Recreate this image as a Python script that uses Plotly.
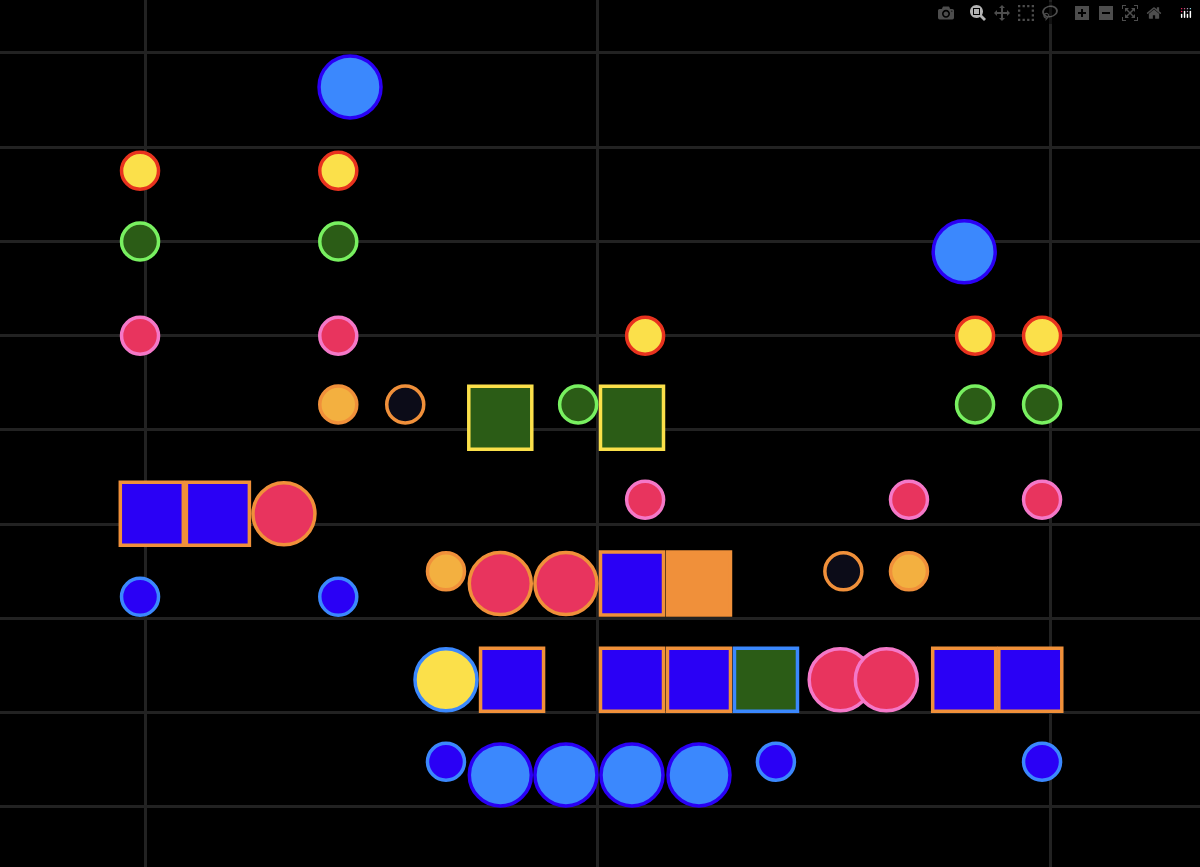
import plotly.graph_objects as go

BLUE_L = "#3b88fd"; BLUE_D = "#2a00f5"; YEL = "#fbe04a"; RED = "#e8321e"
GRN = "#2b5c16"; GRN_L = "#78f060"; PINK = "#e8345e"; PINK_L = "#f478c8"
ORG = "#f0903a"; ORG_L = "#f3b040"; BLK = "#0c0c18"

big_blue_x = [45.3, 181.0]; big_blue_y = [7.64, 5.89]
yel_x = [-1.1, 42.7, 110.5, 183.4, 198.2]; yel_y = [6.75, 6.75, 5.0, 5.0, 5.0]
grn_x = [-1.1, 42.7, 95.7, 183.4, 198.2]; grn_y = [6.0, 6.0, 4.27, 4.27, 4.27]
pink_x = [-1.1, 42.7, 110.5, 168.8, 198.2]; pink_y = [5.0, 5.0, 3.26, 3.26, 3.26]
org_x = [42.7, 66.5, 168.8]; org_y = [4.27, 2.5, 2.5]
blk_x = [57.5, 154.3]; blk_y = [4.27, 2.5]
gsq_x = [78.5, 107.6]; gsq_y = [4.13, 4.13]
bsq_x = [1.5, 16.1, 107.6, 81.1, 107.6, 122.4, 181.0, 195.6]
bsq_y = [3.11, 3.11, 2.37, 1.35, 1.35, 1.35, 1.35, 1.35]
bigpink_x = [30.7, 78.5, 93.0]; bigpink_y = [3.11, 2.37, 2.37]
osq_x = [122.4]; osq_y = [2.37]
sblue_x = [-1.1, 42.7, 66.5, 139.4, 198.2]; sblue_y = [2.23, 2.23, 0.48, 0.48, 0.48]
bigyel_x = [66.5]; bigyel_y = [1.35]
gsq2_x = [137.2]; gsq2_y = [1.35]
bigpink2_x = [153.6, 163.8]; bigpink2_y = [1.35, 1.35]
bb2_x = [78.5, 93.0, 107.6, 122.4]; bb2_y = [0.34, 0.34, 0.34, 0.34]

groups = [
    (big_blue_x, big_blue_y, 62, "circle", BLUE_L, BLUE_D),
    (yel_x, yel_y, 37, "circle", YEL, RED),
    (grn_x, grn_y, 37, "circle", GRN, GRN_L),
    (pink_x, pink_y, 37, "circle", PINK, PINK_L),
    (org_x, org_y, 37, "circle", ORG_L, ORG),
    (blk_x, blk_y, 37, "circle", BLK, ORG),
    (gsq_x, gsq_y, 63, "square", GRN, YEL),
    (bsq_x, bsq_y, 63, "square", BLUE_D, ORG),
    (osq_x, osq_y, 63, "square", ORG, ORG),
    (bigpink_x, bigpink_y, 62, "circle", PINK, ORG),
    (sblue_x, sblue_y, 37, "circle", BLUE_D, BLUE_L),
    (bigyel_x, bigyel_y, 62, "circle", YEL, BLUE_L),
    (gsq2_x, gsq2_y, 63, "square", GRN, BLUE_L),
    (bigpink2_x, bigpink2_y, 62, "circle", PINK, PINK_L),
    (bb2_x, bb2_y, 62, "circle", BLUE_L, BLUE_D),
]

fig = go.Figure()
for x, y, s, sym, fc, lc in groups:
    fig.add_trace(go.Scatter(x=x, y=y, mode="markers", showlegend=False,
                             marker=dict(size=s, symbol=sym, color=fc, opacity=1,
                                         line=dict(color=lc, width=3.5))))
fig.update_layout(width=1200, height=867, margin=dict(l=0, r=0, t=0, b=0),
                  paper_bgcolor="black", plot_bgcolor="black")
fig.update_xaxes(range=[-32.04, 233.1], dtick=100, tick0=0, showgrid=True,
                 gridcolor="#222222", gridwidth=3, zeroline=False, showticklabels=False)
fig.update_yaxes(range=[-0.637, 8.562], dtick=1, tick0=0, showgrid=True,
                 gridcolor="#222222", gridwidth=3, zeroline=False, showticklabels=False)
fig.write_html("out.html",
               post_script="document.body.style.margin='0';document.body.style.background='black';")
